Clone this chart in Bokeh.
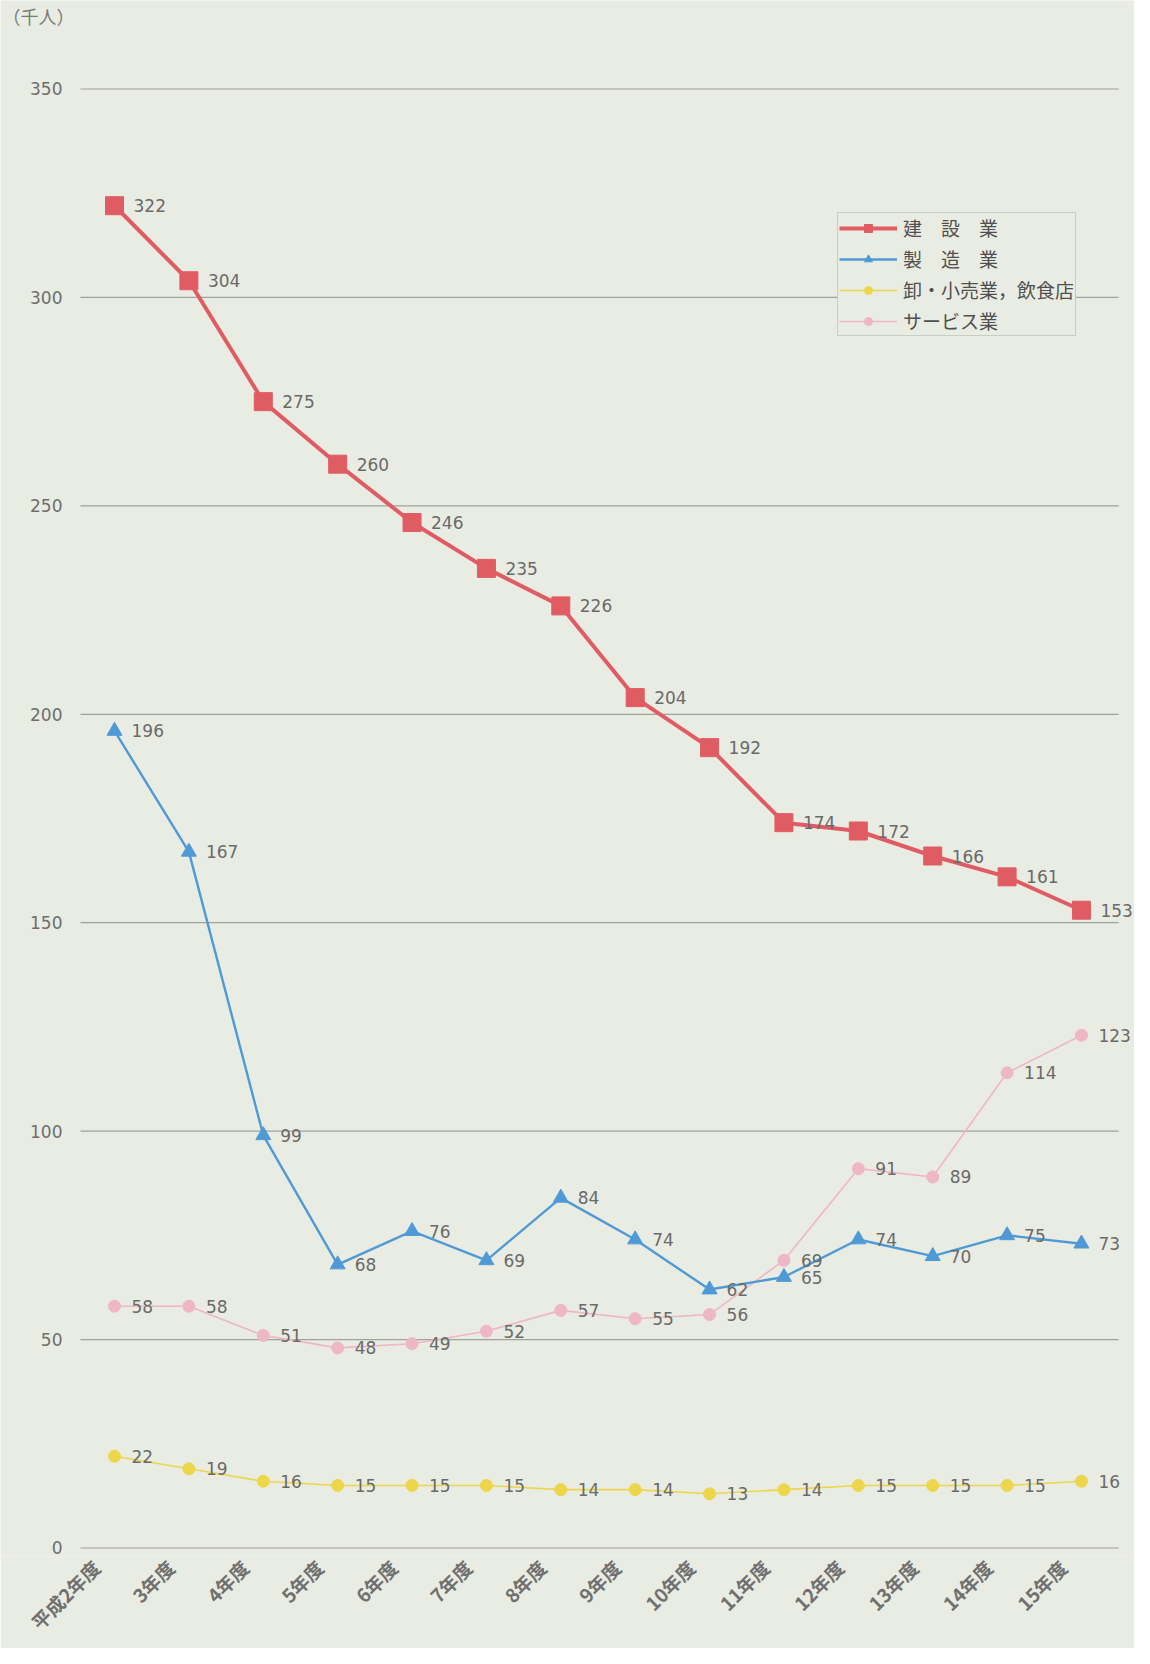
import math
from bokeh.plotting import figure
from bokeh.models import ColumnDataSource, Legend, LegendItem, FixedTicker, LabelSet, Label, Range1d
from bokeh.embed import file_html
from bokeh.resources import INLINE
from bokeh.core.properties import value

years = ["平成2年度", "3年度", "4年度", "5年度", "6年度", "7年度", "8年度",
         "9年度", "10年度", "11年度", "12年度", "13年度", "14年度", "15年度"]
construction = [322, 304, 275, 260, 246, 235, 226, 204, 192, 174, 172, 166, 161, 153]
manufacturing = [196, 167, 99, 68, 76, 69, 84, 74, 62, 65, 74, 70, 75, 73]
retail = [22, 19, 16, 15, 15, 15, 14, 14, 13, 14, 15, 15, 15, 16]
service = [58, 58, 51, 48, 49, 52, 57, 55, 56, 69, 91, 89, 114, 123]
y_ticks = [0, 50, 100, 150, 200, 250, 300, 350]

names = ["建　設　業", "製　造　業", "卸・小売業，飲食店", "サービス業"]
unit_label = "（千人）"

BG = "#e9ece2"
FONT = "Noto Sans CJK JP"
NUMFONT = "DejaVu Sans"

W, H = 1134, 1648
BB = 92
X0, X1 = -1.533, 13.713
Y0, Y1 = -2.04, 371.23

p = figure(width=W, height=H, output_backend="svg", toolbar_location=None,
           x_range=Range1d(X0, X1), y_range=Range1d(Y0, Y1),
           min_border_left=0, min_border_right=0, min_border_top=0, min_border_bottom=BB,
           background_fill_color=BG, border_fill_color=BG)
p.outline_line_color = None

px_x = W / (X1 - X0)
px_y = (H - BB) / (Y1 - Y0)
grid_start = X0 + 80 / px_x       # left end of the horizontal rules
ylab_x = X0 + 62 / px_x           # right edge of the value-axis labels
unit_x = X0 + 2 / px_x
unit_y = Y1 - 15 / px_y

x = list(range(len(years)))

# horizontal grid lines
p.xgrid.grid_line_color = None
p.ygrid.grid_line_color = None
p.segment(x0=[grid_start] * len(y_ticks), x1=[len(years) - 0.5] * len(y_ticks),
          y0=y_ticks, y1=y_ticks, line_color="#8e918a", line_alpha=0.8,
          line_width=1.2, level="underlay")

# value-axis labels and unit caption
p.yaxis.visible = False
ysrc = ColumnDataSource(dict(x=[ylab_x] * len(y_ticks), y=y_ticks, t=[str(v) for v in y_ticks]))
p.add_layout(LabelSet(x="x", y="y", text="t", source=ysrc, text_align="right",
                      text_baseline="middle", text_font=value(NUMFONT),
                      text_font_size="17px", text_color="#6e6e6e"))
p.add_layout(Label(x=unit_x, y=unit_y, text=unit_label, text_align="left",
                   text_baseline="middle", text_font=FONT, text_font_size="18px",
                   text_color="#7a7a7a"))

label_ticks = [i - 0.25 for i in x]
p.xaxis.ticker = FixedTicker(ticks=label_ticks)
p.xaxis.major_label_overrides = {t: years[i] for i, t in enumerate(label_ticks)}
p.xaxis.major_label_orientation = math.pi / 4
p.xaxis.axis_line_color = None
p.xaxis.major_tick_line_color = None
p.xaxis.minor_tick_line_color = None
p.xaxis.major_tick_out = 0
p.xaxis.major_tick_in = 0
p.xaxis.minor_tick_out = 0
p.xaxis.major_label_standoff = 7
p.xaxis.major_label_text_font = FONT
p.xaxis.major_label_text_font_size = "19px"
p.xaxis.major_label_text_font_style = "bold"
p.xaxis.major_label_text_color = "#707070"

series = [
    (construction, "#e05c63", 4.0, "square", 18),
    (manufacturing, "#4f9ad6", 2.4, "triangle", 15),
    (retail, "#eed64a", 1.6, "circle", 12),
    (service, "#efb6c6", 1.6, "circle", 12),
]

items = {}
for idx in [2, 3, 1, 0]:
    vals, color, lw, marker, size = series[idx]
    src = ColumnDataSource(dict(x=x, y=vals, t=[str(v) for v in vals]))
    lr = p.line("x", "y", source=src, line_color=color, line_width=lw)
    sr = p.scatter("x", "y", source=src, marker=marker, size=size,
                   fill_color=color, line_color=color)
    labels = LabelSet(x="x", y="y", text="t", source=src, x_offset=19 if idx == 0 else 17,
                      y_offset=0, text_baseline="middle", text_align="left",
                      text_font=value(NUMFONT), text_font_size="17px", text_color="#6a6a6a")
    p.add_layout(labels)
    items[idx] = LegendItem(label=names[idx], renderers=[lr, sr])

legend = Legend(items=[items[i] for i in range(4)], location=(837, 1220),
                orientation="vertical", glyph_width=58, glyph_height=20,
                label_height=24, spacing=4, padding=1, margin=0,
                label_text_font=FONT, label_text_font_size="19px",
                label_text_color="#505050", label_standoff=6,
                border_line_color="#a9aba5", border_line_width=1.5,
                background_fill_color=BG, background_fill_alpha=1.0)
p.add_layout(legend)

open("out.html", "w").write(file_html(p, INLINE))
